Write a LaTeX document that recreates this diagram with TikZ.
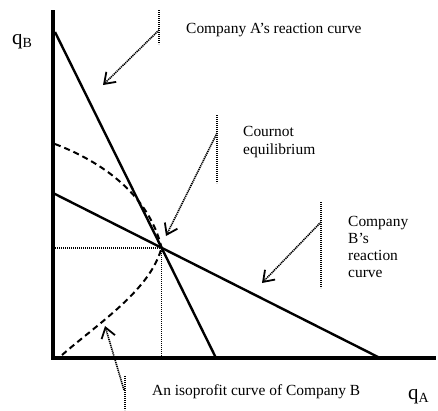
\documentclass[tikz,border=0pt]{standalone}
\usepackage{fontspec}
\setmainfont{Liberation Serif}
\usetikzlibrary{arrows.meta,calc,positioning}

\begin{document}
\begin{tikzpicture}[x=1bp,y=-1bp,>={Straight Barb[length=10bp,width=14bp,line width=1.8bp]},
	lbl/.style={font=\fontsize{15.5}{19}\selectfont,align=left,inner sep=0pt},
	axlbl/.style={font=\fontsize{21}{21}\selectfont,inner sep=0pt},
	pointer/.style={line width=1.6bp,dash pattern=on 1.2bp off 0.8bp,->},
	tickmark/.style={line width=1.6bp,dash pattern=on 1.2bp off 0.8bp},
	reaction/.style={line width=2.4bp},
	iso/.style={line width=2bp,dash pattern=on 6bp off 4bp}]
	\useasboundingbox (0,0) rectangle (438,410);
	% axes
	\coordinate (yTop) at (53,10);
	\coordinate (O) at (53,358);
	\coordinate (xEnd) at (436,358);
	\draw[line width=4bp] (yTop) -- (O) -- (xEnd);
	\node[axlbl,anchor=base west] (qB) at (12,44) {q\raisebox{-3bp}{\fontsize{14}{14}\selectfont B}};
	\node[axlbl,anchor=base west] (qA) at (408,399) {q\raisebox{-3bp}{\fontsize{14}{14}\selectfont A}};
	% reaction curves
	\coordinate (aTop) at (55,32);
	\coordinate (aBot) at (216,358);
	\coordinate (bTop) at (53,193);
	\coordinate (bBot) at (380,358);
	\draw[reaction] (aTop) -- (aBot);
	\draw[reaction] (bTop) -- (bBot);
	\coordinate (E) at (intersection of aTop--aBot and bTop--bBot);
	\draw[tickmark] (E -| O) -- (E) -- (E |- O);
	% isoprofit curves
	\coordinate (isoTop) at (55,144);
	\coordinate (isoLow) at (62,355);
	\draw[iso] (isoTop) .. controls (110,165) and (150,200) .. (E);
	\draw[iso] (isoLow) .. controls (100,322) and (150,290) .. (E);
	% labels and pointers
	\node[lbl,anchor=west] (labA) at (186,30) {Company A’s reaction curve};
	\node[lbl,anchor=west] (labC) at (243,142) {Cournot\\equilibrium};
	\node[lbl,anchor=west,font=\fontsize{15.5}{17.3}\selectfont] (labB) at (348,247) {Company\\B’s\\reaction\\curve};
	\node[lbl,anchor=west] (labI) at (152,392) {An isoprofit curve of Company B};
	\coordinate (tA1) at (159,10);   \coordinate (tA2) at (159,44);
	\coordinate (tC1) at (217,115);  \coordinate (tC2) at (217,183);
	\coordinate (tB1) at (321,202);  \coordinate (tB2) at (321,288);
	\coordinate (tI1) at (125,376);  \coordinate (tI2) at (125,410);
	\draw[tickmark] (tA1) -- (tA2);
	\draw[tickmark] (tC1) -- (tC2);
	\draw[tickmark] (tB1) -- (tB2);
	\draw[tickmark] (tI1) -- (tI2);
	\coordinate (pA) at (103,85);
	\coordinate (pC) at (166,236);
	\coordinate (pB) at (262,283);
	\coordinate (pI) at (105,326);
	\draw[pointer] (159,30) -- (pA);
	\draw[pointer] (217,133) -- (pC);
	\draw[pointer] (321,222) -- (pB);
	\draw[pointer] (124,390) -- (pI);
\end{tikzpicture}
\end{document}
